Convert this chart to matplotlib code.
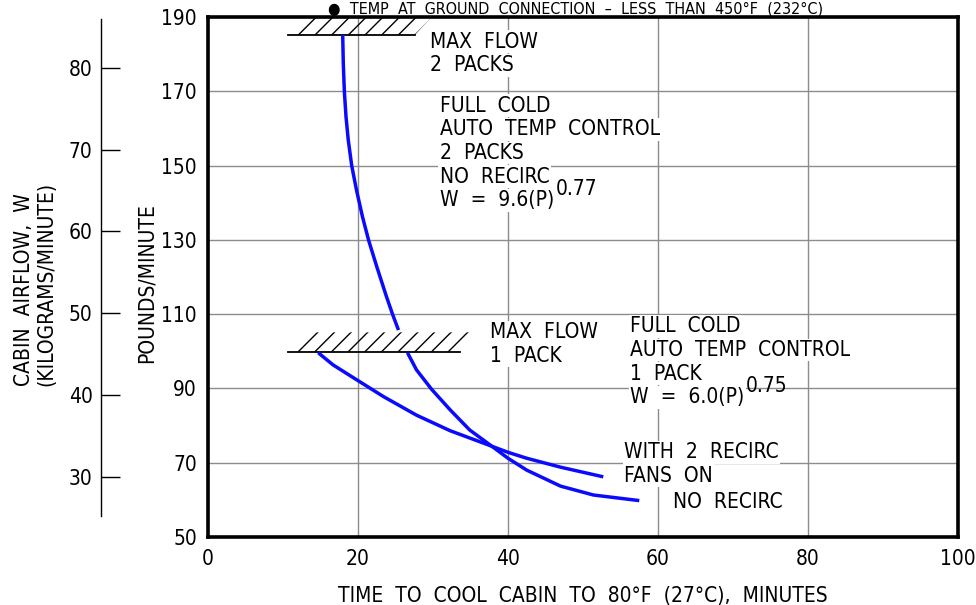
import matplotlib.pyplot as plt
from matplotlib.patches import Polygon

plt.rcParams["font.family"] = ["DejaVu Sans"]
plt.rcParams["font.stretch"] = "condensed"

LB_PER_KG = 2.2046

# curves (minutes, pounds/minute)
two_pack_x = [17.96, 18.04, 18.18, 18.4, 18.7, 19.16, 19.8, 20.6, 21.4,
              22.5, 23.8, 24.6, 25.4]
two_pack_y = [185.2, 177.5, 170.0, 163.2, 156.9, 150.0, 143.4, 136.2, 130.0,
              122.8, 114.7, 110.0, 105.7]
no_recirc_x = [26.6, 27.8, 29.8, 32.3, 34.9, 37.6, 40.0, 42.5, 47.0, 51.4, 57.5]
no_recirc_y = [99.6, 95.0, 89.8, 84.2, 78.8, 74.8, 71.2, 68.0, 63.7, 61.3, 59.8]
recirc_x = [14.7, 16.7, 20.0, 23.4, 27.8, 32.3, 36.3, 40.0, 42.5, 47.0, 52.7]
recirc_y = [99.6, 96.3, 92.1, 87.8, 82.8, 78.6, 75.6, 72.8, 71.2, 68.8, 66.2]

# max flow limits
limit_y = [185.2, 99.9]
limit_x0 = [10.7, 10.7]
limit_x1 = [27.6, 33.6]

lb_ticks = [50, 70, 90, 110, 130, 150, 170, 190]
min_ticks = [0, 20, 40, 60, 80, 100]
kg_ticks = [30, 40, 50, 60, 70, 80]

FS = 15
BLUE = "#0a0aff"

fig = plt.figure(figsize=(9.76, 6.05), dpi=100)
ax = fig.add_axes([0.2131, 0.1124, 0.7685, 0.8595])
ax.set_xlim(0, 100)
ax.set_ylim(50, 190)
ax.set_xticks(min_ticks)
ax.set_yticks(lb_ticks)
ax.tick_params(length=0, labelsize=FS, pad=9)
ax.tick_params(axis="y", pad=8)
ax.grid(True, color="#8c8c8c", lw=1.0)
ax.set_axisbelow(True)
for s in ax.spines.values():
    s.set_linewidth(2.6)

for y, x0, x1 in zip(limit_y, limit_x0, limit_x1):
    h, s = 5.2, 2.4
    ax.add_patch(Polygon([(x0, y), (x1, y), (x1 + s, y + h), (x0 + s, y + h)],
                         closed=True, fill=False, hatch="//", lw=0,
                         edgecolor="black", zorder=3))
    ax.plot([x0, x1], [y, y], color="black", lw=1.3, zorder=3)

for xs, ys in [(two_pack_x, two_pack_y), (no_recirc_x, no_recirc_y),
               (recirc_x, recirc_y)]:
    ax.plot(xs, ys, color=BLUE, lw=2.5, zorder=4, solid_capstyle="butt",
            solid_joinstyle="round")


def block(x, y, lines, step=17):
    arts = []
    for i, t in enumerate(lines):
        a = ax.annotate(t, xy=(x, y), xytext=(0, -i * step),
                        textcoords="offset points", ha="left", va="top",
                        fontsize=FS, zorder=5,
                        bbox=dict(facecolor="white", edgecolor="none", pad=1))
        arts.append(a)
    return arts


def sup(art, t):
    ax.annotate(t, xy=(1, 0.55), xycoords=art, xytext=(1, 0),
                textcoords="offset points", ha="left", va="bottom",
                fontsize=FS, zorder=5)


block(29.6, 186.0, ["MAX  FLOW", "2  PACKS"])
b = block(30.9, 168.8, ["FULL  COLD", "AUTO  TEMP  CONTROL", "2  PACKS",
                        "NO  RECIRC", "W  =  9.6(P)"])
sup(b[-1], "0.77")
block(37.6, 107.8, ["MAX  FLOW", "1  PACK"])
b = block(56.3, 109.4, ["FULL  COLD", "AUTO  TEMP  CONTROL", "1  PACK",
                        "W  =  6.0(P)"])
sup(b[-1], "0.75")
block(55.5, 75.5, ["WITH  2  RECIRC", "FANS  ON"])
block(62.0, 62.0, ["NO  RECIRC"])

ax.set_xlabel("TIME  TO  COOL  CABIN  TO  80°F  (27°C),  MINUTES",
              fontsize=FS, labelpad=12)

# kilograms/minute scale on the far left
axk = fig.add_axes([0.1035, 0.1124, 0.01, 0.8595])
axk.set_ylim(50 / LB_PER_KG, 190 / LB_PER_KG)
axk.set_xticks([])
axk.set_yticks(kg_ticks)
axk.patch.set_visible(False)
for k in ["top", "right", "bottom"]:
    axk.spines[k].set_visible(False)
axk.spines["left"].set_bounds(25.3, 86.0)
axk.spines["left"].set_linewidth(1.0)
axk.tick_params(axis="y", direction="in", length=14, width=1.0,
                labelsize=FS, pad=6)

fig.text(0.1505, 0.532, "POUNDS/MINUTE", rotation=90, ha="center",
         va="center", fontsize=FS)
fig.text(0.036, 0.362, "CABIN  AIRFLOW,  W\n(KILOGRAMS/MINUTE)", rotation=90,
         ha="center", va="bottom", multialignment="left", fontsize=FS,
         linespacing=1.15)
fig.text(0.59, 0.998,
         "●  TEMP  AT  GROUND  CONNECTION  –  LESS  THAN  450°F  (232°C)",
         ha="center", va="top", fontsize=11.5)

fig.savefig("out.png", dpi=100)
